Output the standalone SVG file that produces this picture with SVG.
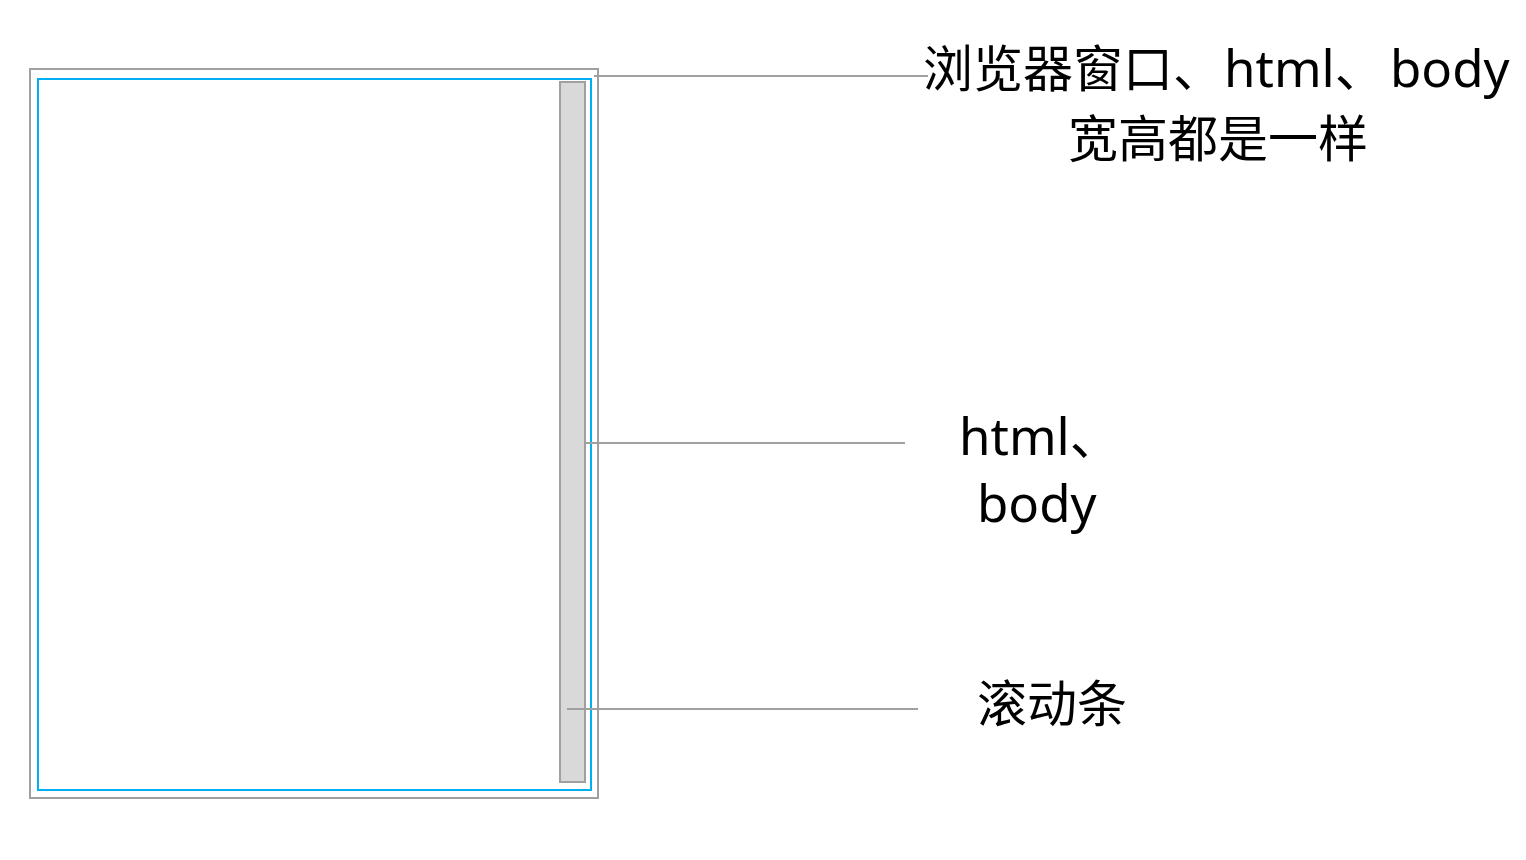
<svg xmlns="http://www.w3.org/2000/svg" width="1526" height="860" viewBox="0 0 1526 860">
<style>
.t{font-family:"Noto Sans","Noto Sans CJK SC",sans-serif;font-size:51px;fill:#000}
.c{font-size:50px}
.ln{stroke:#a0a0a0;stroke-width:2;fill:none}
</style>
<rect width="1526" height="860" fill="#fff"/>
<g id="window">
<rect x="30" y="69" width="568" height="729" fill="none" stroke="#a0a0a0" stroke-width="2"/>
</g>
<g id="body">
<rect x="38" y="79" width="553" height="711" fill="none" stroke="#00b0f0" stroke-width="2"/>
</g>
<g id="scrollbar">
<rect x="560" y="82" width="25" height="700" fill="#d9d9d9" stroke="#a0a0a0" stroke-width="2"/>
</g>
<g id="connectors">
<line class="ln" x1="594" y1="76" x2="928" y2="76"/>
<line class="ln" x1="586" y1="443" x2="905" y2="443"/>
<line class="ln" x1="567" y1="709" x2="918" y2="709"/>
</g>
<g id="label-top">
<text class="t" y="87"><tspan x="923" class="c">浏览器窗口、</tspan><tspan x="1224">html、</tspan><tspan x="1390">body</tspan></text>
<text class="t c" x="1218" y="157" text-anchor="middle">宽高都是一样</text>
</g>
<g id="label-mid">
<text class="t" x="959" y="455">html、</text>
<text class="t" x="977" y="522">body</text>
</g>
<g id="label-bottom">
<text class="t c" x="977" y="722">滚动条</text>
</g>
</svg>
